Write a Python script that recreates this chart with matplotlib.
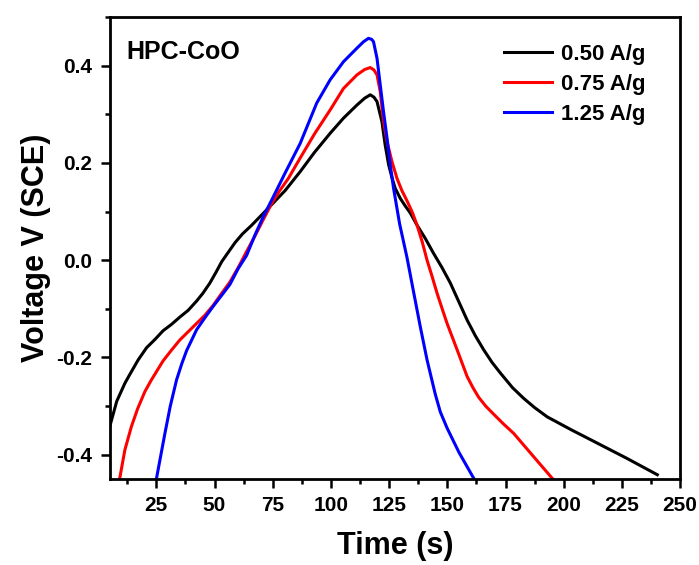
import numpy as np
import matplotlib.pyplot as plt
from matplotlib.ticker import MultipleLocator

plt.rcParams['font.family'] = ['Liberation Sans', 'DejaVu Sans']
plt.rcParams['font.weight'] = 'bold'

labels = ["0.50 A/g", "0.75 A/g", "1.25 A/g"]
colors = ["black", "red", "blue"]

t_050 = [5.0, 8, 11.5, 13.6, 17.2, 20.8, 24.4, 27.9, 31.5, 35.1, 38.7, 42.3, 45, 48,
         50.5, 53.1, 56.6, 58.8, 62, 66, 73.1, 80.3, 86.8, 93, 99.7, 105.4, 111.2,
         114.5, 116.9, 118.5, 119.8, 121.9, 123.3, 124.8, 126.2, 127.6, 129.8, 132,
         134.1, 137, 140.5, 144.1, 147.7, 151.3, 154.9, 158.5, 162, 165.6, 169.2, 172.8,
         178, 182.8, 187.5, 192.9, 203, 214.4, 227, 240.2]
v_050 = [-0.342, -0.29, -0.253, -0.235, -0.205, -0.180, -0.163, -0.145, -0.132, -0.117,
         -0.103, -0.084, -0.068, -0.047, -0.026, -0.003, 0.021, 0.036, 0.054, 0.072,
         0.107, 0.143, 0.182, 0.222, 0.261, 0.292, 0.319, 0.333, 0.340, 0.335, 0.326,
         0.285, 0.237, 0.196, 0.170, 0.148, 0.127, 0.111, 0.097, 0.072, 0.045, 0.014,
         -0.015, -0.047, -0.085, -0.123, -0.155, -0.184, -0.210, -0.232, -0.262, -0.284,
         -0.303, -0.322, -0.348, -0.376, -0.407, -0.441]

t_075 = [9.3, 11.5, 14.3, 17, 20.1, 22.9, 27.9, 31.5, 35.1, 38.7, 42.3, 45.9, 49.4,
         53.1, 56.6, 60.2, 63.8, 67.4, 71, 74.6, 78, 81.7, 86.8, 93, 99.7, 105.4, 111.2,
         114.5, 116.9, 118.5, 119.8, 121.2, 122.6, 124.1, 126.2, 128.4, 130.5, 132.7,
         135, 137, 139.2, 141.3, 143.5, 145.6, 147.8, 149.9, 154.2, 158.5, 161, 163.5,
         166.5, 170, 174, 178.5, 187.1, 195]
v_075 = [-0.448, -0.39, -0.342, -0.305, -0.270, -0.246, -0.207, -0.185, -0.164, -0.147,
         -0.130, -0.113, -0.093, -0.068, -0.045, -0.015, 0.018, 0.050, 0.084, 0.117,
         0.143, 0.168, 0.210, 0.260, 0.309, 0.353, 0.381, 0.392, 0.396, 0.391, 0.381,
         0.346, 0.285, 0.244, 0.203, 0.168, 0.143, 0.122, 0.098, 0.072, 0.038, 0.0,
         -0.034, -0.068, -0.100, -0.130, -0.184, -0.239, -0.262, -0.282, -0.300, -0.317,
         -0.336, -0.356, -0.404, -0.448]

t_125 = [25.1, 28.7, 31, 33.7, 36, 38, 42.3, 45.9, 49.4, 53.1, 56.6, 60.2, 63.8, 67.4,
         71, 74.6, 80.3, 86.8, 93.9, 99.7, 105.4, 111.2, 114, 116.1, 117.5, 118.3, 119.8,
         121.2, 122.6, 124.1, 125.5, 126.9, 129.5, 132.7, 135.5, 138.4, 141.3, 144.8,
         147, 149.9, 155, 161.3]
v_125 = [-0.448, -0.356, -0.300, -0.246, -0.212, -0.186, -0.143, -0.118, -0.095, -0.072,
         -0.050, -0.017, 0.010, 0.052, 0.090, 0.124, 0.179, 0.240, 0.323, 0.371, 0.408,
         0.436, 0.449, 0.456, 0.454, 0.449, 0.415, 0.360, 0.305, 0.251, 0.196, 0.148,
         0.075, 0.005, -0.065, -0.137, -0.205, -0.275, -0.312, -0.345, -0.395, -0.448]

fig = plt.figure(figsize=(6.99, 5.65), dpi=100)
ax = fig.add_axes([0.157, 0.152, 0.816, 0.818])

for t, v, c, lab in zip([t_050, t_075, t_125], [v_050, v_075, v_125], colors, labels):
    ax.plot(t, v, color=c, lw=2.2, label=lab, solid_joinstyle='round')

ax.set_xlim(5, 250)
ax.set_ylim(-0.45, 0.5)
ax.xaxis.set_minor_locator(MultipleLocator(12.5))
ax.yaxis.set_minor_locator(MultipleLocator(0.1))
ax.set_xticks(np.arange(25, 251, 25))
ax.set_yticks([-0.4, -0.2, 0.0, 0.2, 0.4])
ax.set_yticklabels(["-0.4", "-0.2", "0.0", "0.2", "0.4"])

ax.tick_params(which='major', direction='out', length=6.5, width=1.8, labelsize=15, pad=6)
ax.tick_params(which='minor', direction='out', length=3.5, width=1.8)
for s in ax.spines.values():
    s.set_linewidth(2)

ax.set_xlabel("Time (s)", fontsize=22, fontweight='bold', labelpad=11)
ax.set_ylabel("Voltage V (SCE)", fontsize=22, fontweight='bold', labelpad=4)

ax.text(0.03, 0.925, "HPC-CoO", transform=ax.transAxes, fontsize=18, fontweight='bold',
        va='center', ha='left')

ax.legend(loc='upper right', bbox_to_anchor=(0.975, 0.985), frameon=False, fontsize=16,
          handlelength=2.2, labelspacing=0.4, handletextpad=0.4)

fig.savefig("out.png", dpi=100)
